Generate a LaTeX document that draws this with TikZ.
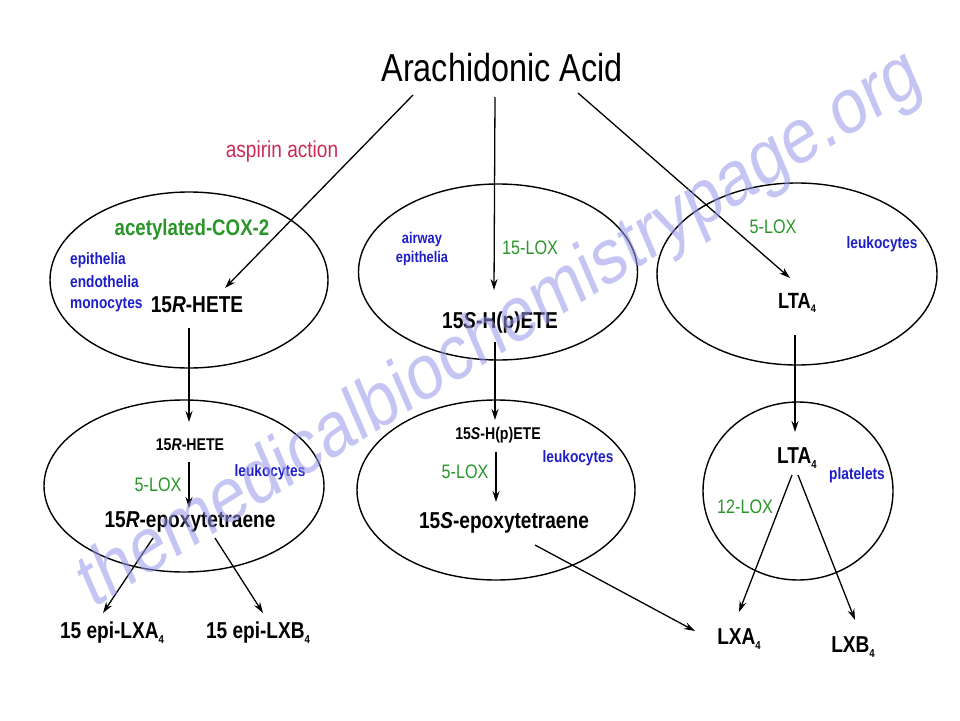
\documentclass[tikz,border=0pt]{standalone}
\usepackage{fontspec}
\setmainfont{Liberation Sans}[FakeStretch=0.83]
\newfontfamily\wmfont{Liberation Sans}
\usetikzlibrary{arrows.meta,shapes.geometric}
\definecolor{loxc}{RGB}{40,150,40}
\definecolor{cellc}{RGB}{30,30,200}
\definecolor{aspc}{RGB}{200,45,90}
\definecolor{wmc}{RGB}{150,150,235}
\newcommand\subs[1]{\raisebox{-0.35ex}{\scalebox{0.5}{#1}}}
\newcommand\fsz[1]{\fontsize{#1}{#1}\selectfont}
\begin{document}
\begin{tikzpicture}[x=1pt,y=-1pt,
  cellbox/.style={ellipse,draw,line width=1.4pt,inner sep=0pt},
  mol/.style={inner sep=0pt,font=\fsz{23}\bfseries},
  molsmall/.style={inner sep=0pt,font=\fsz{17}\bfseries},
  enz/.style={inner sep=0pt,text=loxc,font=\fsz{19.5}},
  cell/.style={inner sep=0pt,text=cellc,font=\fsz{16.5}\bfseries,align=left},
  arr/.style={line width=1.3pt,-{Stealth[length=11pt,width=7pt]}},
  wmark/.style={inner sep=0pt,text=wmc,opacity=0.55,font=\wmfont\fsz{78.5}}]
\useasboundingbox (0,0) rectangle (960,720);
\fill[white] (0,0) rectangle (960,720);

% ellipses
\node[cellbox,minimum width=278pt,minimum height=176pt] (e1) at (189,280) {};
\node[cellbox,minimum width=279pt,minimum height=176pt] (e2) at (498,272) {};
\node[cellbox,minimum width=280pt,minimum height=182pt] (e3) at (797,274) {};
\node[cellbox,minimum width=280pt,minimum height=172pt] (e4) at (184,486) {};
\node[cellbox,minimum width=278pt,minimum height=180pt] (e5) at (496,490) {};
\node[cellbox,minimum width=190pt,minimum height=178pt] (e6) at (798,491) {};

% top
\node[inner sep=0pt,font=\fsz{39}] (aa) at (502,68) {Arachidonic Acid};
\node[inner sep=0pt,text=aspc,font=\fsz{23}] (asp) at (282,152) {aspirin action};

% left top ellipse
\node[inner sep=0pt,text=loxc,font=\fsz{22.5}\bfseries] (cox) at (192,230) {acetylated-COX-2};
\node[cell,anchor=west] (epi1) at (70,260) {epithelia};
\node[cell,anchor=west] (endo) at (70,282) {endothelia};
\node[cell,anchor=west] (mono) at (70,305) {monocytes};
\node[mol] (rhete) at (197,305) {15\textit{R}-HETE};

% middle top ellipse
\node[cell,align=center,font=\fsz{15.5}\bfseries] (airway) at (422,249) {airway\\[4pt]epithelia};
\node[enz] (lox15) at (530,248) {15-LOX};
\node[mol] (shete) at (500,323) {15\textit{S}-H(p)ETE};

% right top ellipse
\node[enz] (lox5a) at (773,227) {5-LOX};
\node[cell] (leuk1) at (882,244) {leukocytes};
\node[mol,font=\fsz{22}\bfseries] (lta) at (797,303) {LTA\subs{4}};

% left bottom ellipse
\node[molsmall] (rhete2) at (190,445) {15\textit{R}-HETE};
\node[enz] (lox5b) at (158,485) {5-LOX};
\node[cell] (leuk2) at (270,472) {leukocytes};
\node[mol] (repoxy) at (190,522) {15\textit{R}-epoxytetraene};
\node[mol] (elxa) at (112,633) {15 epi-LXA\subs{4}};
\node[mol] (elxb) at (258,633) {15 epi-LXB\subs{4}};

% middle bottom ellipse
\node[molsmall] (shete2) at (498,435) {15\textit{S}-H(p)ETE};
\node[enz] (lox5c) at (465,472) {5-LOX};
\node[cell] (leuk3) at (578,458) {leukocytes};
\node[mol] (sepoxy) at (504,523) {15\textit{S}-epoxytetraene};

% right bottom circle
\node[mol] (lta2) at (797,458) {LTA\subs{4}};
\node[cell] (plt) at (857,475) {platelets};
\node[enz] (lox12) at (745,507) {12-LOX};
\node[mol] (lxa) at (739,639) {LXA\subs{4}};
\node[mol] (lxb) at (853,647) {LXB\subs{4}};

% connectors
\draw[arr] ([shift={(-89,27)}]aa.center) -- ([shift={(28,-17)}]rhete.center);
\draw[arr] ([shift={(-7,29)}]aa.center) -- ([shift={(-6,-33)}]shete.center);
\draw[arr] ([shift={(76,25)}]aa.center) -- ([shift={(-7,-25)}]lta.center);
\draw[arr] ([shift={(-8,23)}]rhete.center) -- ([shift={(-1,-23)}]rhete2.center);
\draw[arr] ([shift={(-1,17)}]rhete2.center) -- ([shift={(-1,-14)}]repoxy.center);
\draw[arr] ([shift={(-37,16)}]repoxy.center) -- ([shift={(-9,-20)}]elxa.center);
\draw[arr] ([shift={(25,16)}]repoxy.center) -- ([shift={(5,-20)}]elxb.center);
\draw[arr] ([shift={(-5,19)}]shete.center) -- ([shift={(-3,-15)}]shete2.center);
\draw[arr] ([shift={(-2,17)}]shete2.center) -- ([shift={(-8,-21)}]sepoxy.center);
\draw[arr] ([shift={(31,22)}]sepoxy.center) -- ([shift={(-44,-8)}]lxa.center);
\draw[arr] ([shift={(-2,32)}]lta.center) -- ([shift={(-2,-26)}]lta2.center);
\draw[arr] ([shift={(-5,17)}]lta2.center) -- ([shift={(0,-27)}]lxa.center);
\draw[arr] ([shift={(1,17)}]lta2.center) -- ([shift={(2,-27)}]lxb.center);

% watermark (rotated, then squeezed horizontally like the rest of the picture)
\begin{scope}[xscale=0.83,transform shape]
\node[wmark,rotate=27.5,anchor=base] (wm) at (613,349) {themedicalbiochemistrypage.org};
\end{scope}
\end{tikzpicture}
\end{document}
